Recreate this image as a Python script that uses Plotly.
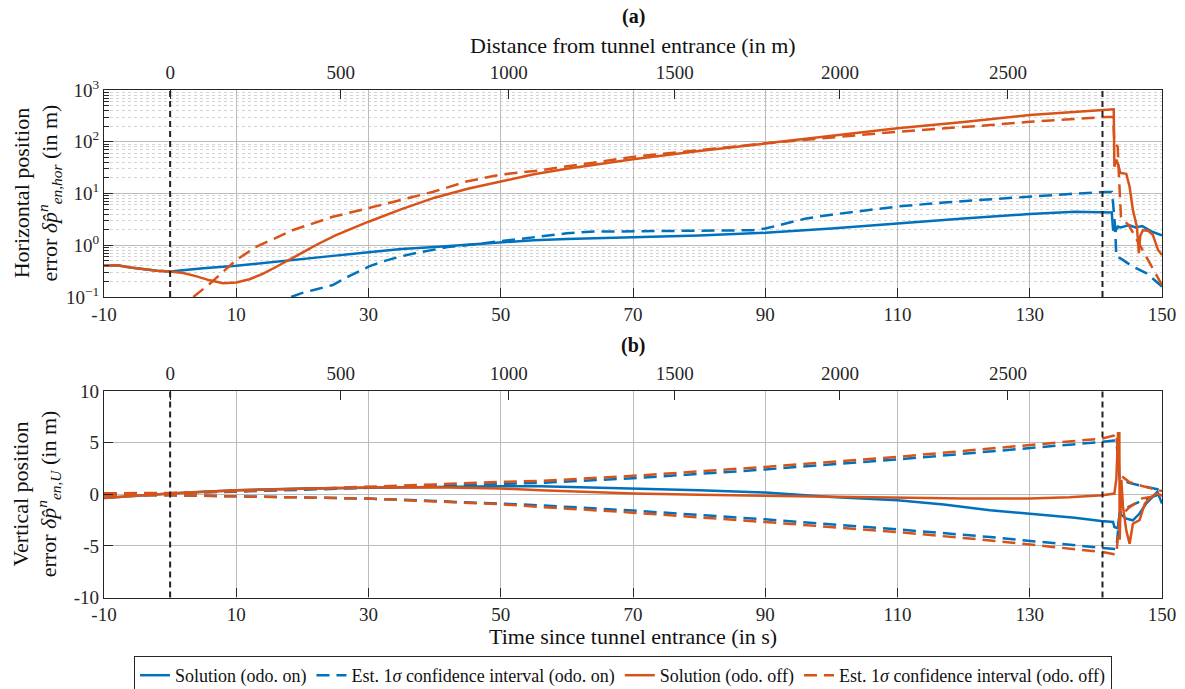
import plotly.graph_objects as go

# ---------------- data ----------------
# (a) horizontal position error, log scale
t_a_off = [-10, -8, -6, -4, -2, 0, 2, 4, 6, 8, 10, 12, 14, 16, 18.3, 20, 22, 25, 30, 35, 40, 45, 50, 55,
           60, 70, 80, 90, 100, 110, 120, 130, 140, 142.7, 142.8, 143.1, 143.3, 143.7, 144.6, 145.1, 145.6,
           146.2, 146.5, 146.7, 147.1, 147.9, 148.6, 149.4, 150]
hor_off = [0.40, 0.41, 0.37, 0.34, 0.32, 0.31, 0.29, 0.25, 0.21, 0.185, 0.19, 0.22, 0.28, 0.38, 0.54, 0.72,
           1.0, 1.55, 2.85, 5.0, 8.3, 12.4, 17, 23.5, 30, 46, 66, 93, 130, 182, 240, 330, 400, 423, 33, 45,
           38, 25, 24, 13.5, 4.8, 2.3, 0.7, 1.5, 1.95, 1.9, 1.6, 0.81, 0.65]

t_a_off_sig = [3.5, 6.0, 10, 13.0, 18.6, 24.6, 29.7, 34.7, 39.8, 44.8, 49.8, 55.9, 70, 90, 110, 124, 130,
               141.6, 142.6, 142.8, 143.3, 143.5, 143.8, 145, 146.5, 148, 150]
hor_off_sig = [0.1, 0.18, 0.52, 0.93, 1.97, 3.55, 5.1, 7.5, 10.8, 17, 23, 28, 51, 93, 156, 210, 244,
               300, 300, 95, 80, 20, 3.5, 2.4, 1.1, 0.5, 0.17]

t_a_on = [-10, -8, -6, -4, -2, 0, 5, 10, 15, 20, 25, 30, 35, 40, 45, 50, 55, 60, 70, 80, 90, 100, 110,
          120, 130, 136.8, 142.4, 142.6, 143.0, 143.3, 143.8, 145, 146, 147, 148.6, 150]
hor_on = [0.40, 0.41, 0.37, 0.34, 0.32, 0.31, 0.36, 0.40, 0.47, 0.55, 0.63, 0.73, 0.85, 0.93, 1.03, 1.15,
          1.25, 1.32, 1.42, 1.55, 1.74, 2.1, 2.63, 3.3, 4.0, 4.45, 4.3, 2.0, 1.9, 2.3, 2.2, 2.45, 2.2, 2.35,
          1.8, 1.55]

t_a_on_sig = [18.3, 20, 22, 24.6, 27, 30, 32, 34.7, 37, 39.8, 42, 44.8, 47, 50, 53, 56, 60, 63.4, 70, 80,
              88, 90, 93, 96.2, 100, 105, 110, 117, 124, 130, 136, 141.5, 142.4, 142.6, 142.9, 143.1,
              143.8, 145.6, 147.6, 150]
hor_on_sig = [0.1, 0.12, 0.14, 0.17, 0.25, 0.385, 0.48, 0.6, 0.7, 0.83, 0.92, 1.0, 1.08, 1.17, 1.3, 1.46,
              1.7, 1.83, 1.87, 1.92, 1.95, 2.1, 2.6, 3.3, 3.9, 4.7, 5.6, 6.7, 7.8, 8.7, 9.8, 10.7, 10.7,
              6.5, 2.3, 0.6, 0.55, 0.385, 0.29, 0.16]

# (b) vertical position error
t_b_on = [-10, -5, 0, 5, 10, 20, 30, 40, 50, 56, 63, 70, 80, 90, 100, 110, 117, 124, 130, 136.8, 140.8,
          142.6, 142.8, 143.3, 143.6, 144.6, 145.6, 146.6, 147.6, 148.6, 149.3, 150]
up_on = [-0.36, -0.12, 0.07, 0.25, 0.39, 0.55, 0.65, 0.73, 0.78, 0.78, 0.68, 0.55, 0.38, 0.16, -0.26,
         -0.58, -1.0, -1.55, -1.87, -2.27, -2.59, -2.69, -3.17, -3.3, -1.87, -2.36, -2.52, -1.87, -0.9,
         -0.26, 0.23, -0.9]

t_b_off = [-10, 0, 10, 20, 30, 40, 50, 56, 63, 70, 80, 90, 100, 110, 120, 130, 136, 141, 142.8, 143.1,
           143.35, 143.55, 143.6, 143.85, 144.1, 144.6, 145.1, 145.6, 146.6, 147.4, 148.1, 149.1, 150]
up_off = [-0.36, 0.07, 0.39, 0.55, 0.65, 0.68, 0.55, 0.39, 0.22, 0.07, -0.05, -0.16, -0.26, -0.34, -0.42,
          -0.42, -0.3, -0.1, 0.07, 1.5, 5.9, 5.9, -4.4, 1.4, -1.2, -3.5, -4.8, -2.85, -2.5, -0.9, -0.42,
          0.07, -0.1]

t_b_sig = [-10, 0, 10, 20, 30, 40, 50, 56, 70, 90, 110, 124, 141, 142.8, 143.1, 143.6, 145, 147, 150]
up_off_hi = [0.1, 0.12, 0.3, 0.5, 0.71, 0.95, 1.2, 1.29, 1.78, 2.65, 3.62, 4.43, 5.4, 5.7, 5.9, 1.9, 1.2,
             0.8, 0.3]
up_off_lo = [-0.1, -0.1, -0.2, -0.3, -0.42, -0.7, -0.97, -1.23, -1.78, -2.69, -3.66, -4.47, -5.6, -5.8,
             -5.8, -2.2, -1.3, -0.4, -0.1]
up_on_hi = [0.05, 0.1, 0.25, 0.45, 0.6, 0.85, 1.05, 1.1, 1.55, 2.4, 3.37, 4.11, 5.08, 5.2, 5.2, 1.5, 1.1,
            0.8, 0.4]
up_on_lo = [-0.1, -0.1, -0.2, -0.3, -0.42, -0.65, -0.9, -1.07, -1.58, -2.43, -3.4, -4.14, -5.2, -5.3,
            -5.3, -1.8, -1.2, -0.6, 0.07]

# axes
time_ticks = [-10, 10, 30, 50, 70, 90, 110, 130, 150]
dist_ticks = [0, 500, 1000, 1500, 2000, 2500]
dist_tick_times = [0, 25.8, 51.2, 76.3, 101.3, 126.7]
tunnel_times = [0, 141.0]
log_major = [0.1, 1, 10, 100, 1000]
log_major_text = ["10<sup>\u22121</sup>", "10<sup>0</sup>", "10<sup>1</sup>", "10<sup>2</sup>", "10<sup>3</sup>"]
lin_ticks = [-10, -5, 0, 5, 10]

# ---------------- styling ----------------
BLUE = "#0072BD"
ORANGE = "#D95319"
FONT = "Liberation Serif"
GRID = "#bcbcbc"
AXC = "#262626"
DASH = "13px,7px"
LW = 2.5

fig = go.Figure()

def line(x, y, color, dash, name, xa, ya, show):
    fig.add_trace(go.Scatter(
        x=x, y=y, mode="lines", name=name, showlegend=show,
        line=dict(color=color, width=LW, dash=dash),
        xaxis=xa, yaxis=ya, hoverinfo="skip"))

lab_on = "Solution (odo. on)"
lab_on_s = "Est. 1<i>\u03c3</i> confidence interval (odo. on)"
lab_off = "Solution (odo. off)"
lab_off_s = "Est. 1<i>\u03c3</i> confidence interval (odo. off)"

# panel (a)
line(t_a_on, hor_on, BLUE, "solid", lab_on, "x", "y", True)
line(t_a_on_sig, hor_on_sig, BLUE, DASH, lab_on_s, "x", "y", True)
line(t_a_off, hor_off, ORANGE, "solid", lab_off, "x", "y", True)
line(t_a_off_sig, hor_off_sig, ORANGE, DASH, lab_off_s, "x", "y", True)

# panel (b)
line(t_b_on, up_on, BLUE, "solid", lab_on, "x2", "y2", False)
line(t_b_sig, up_on_hi, BLUE, DASH, lab_on_s, "x2", "y2", False)
line(t_b_sig, up_on_lo, BLUE, DASH, lab_on_s, "x2", "y2", False)
line(t_b_off, up_off, ORANGE, "solid", lab_off, "x2", "y2", False)
line(t_b_sig, up_off_hi, ORANGE, DASH, lab_off_s, "x2", "y2", False)
line(t_b_sig, up_off_lo, ORANGE, DASH, lab_off_s, "x2", "y2", False)

# empty carriers so the secondary (distance) axes get drawn on top of each panel
for xa, ya in (("x3", "y"), ("x4", "y2")):
    fig.add_trace(go.Scatter(x=dist_tick_times, y=[None] * len(dist_tick_times), mode="lines",
                             xaxis=xa, yaxis=ya, showlegend=False, hoverinfo="skip"))

# tunnel entrance / exit markers
for tt in tunnel_times:
    for xr, yr in (("x", "y domain"), ("x2", "y2 domain")):
        fig.add_shape(type="line", x0=tt, x1=tt, y0=0, y1=1, xref=xr, yref=yr,
                      line=dict(color="#222222", width=2, dash="6px,4px"), layer="above")

H = 689
dom_a = [1 - 297 / H, 1 - 90 / H]
dom_b = [1 - 597.5 / H, 1 - 391 / H]

tickfont = dict(family=FONT, size=19, color="#262626")

xcommon = dict(range=[-10, 150], tickvals=time_ticks, ticktext=[str(v) for v in time_ticks],
               showgrid=True, gridcolor=GRID, gridwidth=1, ticks="inside", ticklen=9,
               tickcolor=AXC, showline=True, linecolor=AXC, linewidth=1.3, mirror=True,
               zeroline=False, tickfont=tickfont)
xtop = dict(range=[-10, 150], tickvals=dist_tick_times, ticktext=[str(v) for v in dist_ticks],
            side="top", showgrid=False, ticks="inside", ticklen=9, tickcolor=AXC,
            showline=False, zeroline=False, tickfont=tickfont, ticklabelstandoff=6)

minor_vals = [m * 10 ** e for e in (-1, 0, 1, 2) for m in range(2, 10)]

fig.update_layout(
    width=1185, height=689,
    margin=dict(l=104, r=23, t=0, b=0, autoexpand=False),
    paper_bgcolor="white", plot_bgcolor="white",
    font=dict(family=FONT, color="#262626"),
    xaxis=dict(xcommon, domain=[0, 1], anchor="y"),
    xaxis2=dict(xcommon, domain=[0, 1], anchor="y2"),
    xaxis3=dict(xtop, overlaying="x", anchor="y"),
    xaxis4=dict(xtop, overlaying="x2", anchor="y2"),
    yaxis=dict(type="log", range=[-1, 3], domain=dom_a, anchor="x",
               tickvals=log_major, ticktext=log_major_text,
               showgrid=True, gridcolor=GRID, gridwidth=1, ticks="inside", ticklen=9,
               tickcolor=AXC, showline=True, linecolor=AXC, linewidth=1.3, mirror=True,
               zeroline=False, tickfont=tickfont,
               minor=dict(tickmode="array", tickvals=minor_vals, showgrid=True, gridcolor="#d4d4d4",
                          griddash="dot", gridwidth=1, ticks="inside", ticklen=5, tickcolor=AXC)),
    yaxis2=dict(range=[-10, 10], domain=dom_b, anchor="x2", tickvals=lin_ticks,
                ticktext=[str(v) for v in lin_ticks],
                showgrid=True, gridcolor=GRID, gridwidth=1, ticks="inside", ticklen=9,
                tickcolor=AXC, showline=True, linecolor=AXC, linewidth=1.3, mirror=True,
                zeroline=False, tickfont=tickfont),
    legend=dict(orientation="h", xref="container", yref="container", x=0.5257, y=1 - 656 / H,
                xanchor="center", yanchor="top", bordercolor="#262626", borderwidth=1,
                bgcolor="white", font=dict(family=FONT, size=18, color="#111111"),
                itemwidth=30, tracegroupgap=0),
    showlegend=True,
)

def note(text, x, y, size=21, angle=0, xref="paper"):
    fig.add_annotation(text=text, x=x, y=y, xref=xref, yref="paper", showarrow=False,
                       textangle=angle, xanchor="center", yanchor="middle",
                       font=dict(family=FONT, size=size, color="#111111"))

note("<b>(a)</b>", 0.5, 1 - 16 / H, size=20)
note("Distance from tunnel entrance (in m)", 0.5, 1 - 45 / H, size=22)
note("<b>(b)</b>", 0.5, 1 - 346 / H, size=20)
note("Time since tunnel entrance (in s)", 0.5, 1 - 636 / H, size=22)

xl = (36 - 104) / 1058
note("Horizontal position<br>error <i>\u03b4p\u0302</i><sup><i>n</i></sup><sub><i>en,hor</i></sub> (in m)",
     xl, (dom_a[0] + dom_a[1]) / 2, size=22, angle=-90)
note("Vertical position<br>error <i>\u03b4p\u0302</i><sup><i>n</i></sup><sub><i>en,U</i></sub> (in m)",
     xl, (dom_b[0] + dom_b[1]) / 2, size=22, angle=-90)

fig.write_html("out.html")
